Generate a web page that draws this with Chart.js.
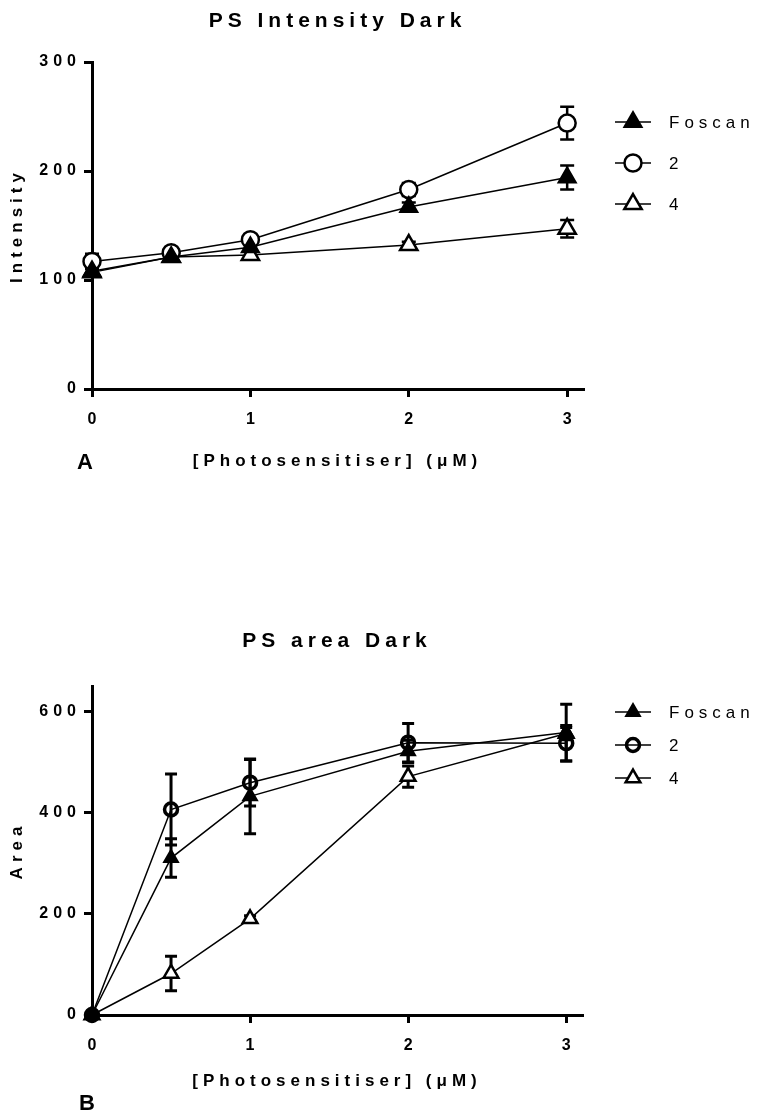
<!DOCTYPE html>
<html>
<head>
<meta charset="utf-8">
<script src="https://cdn.jsdelivr.net/npm/chart.js@4.4.1/dist/chart.umd.min.js"></script>
<style>
  html, body { margin: 0; padding: 0; background: #fff; }
  #wrap { position: relative; width: 760px; height: 1117px; overflow: hidden; }
  canvas { position: absolute; left: 0; }
  .panel { position: absolute; font-family: "Liberation Sans", Arial, sans-serif; font-weight: bold; font-size: 22px; color: #000; line-height: 1; }
</style>
</head>
<body>
<div id="wrap">
  <canvas id="c1" width="760" height="520" style="top:0"></canvas>
  <canvas id="c2" width="760" height="497" style="top:620px"></canvas>
  <div class="panel" style="left:77px; top:451px;">A</div>
  <div class="panel" style="left:79px; top:1092px;">B</div>
</div>
<script>
// ---------- data ----------
const concentrations = [0, 0.5, 1, 2, 3];
const seriesNames = ['Foscan', '2', '4'];
const xTickValues = [0, 1, 2, 3];

// Panel A: PS Intensity Dark
const intensityTicks = [0, 100, 200, 300];
const foscanIntensity = [108, 121, 130, 167, 194];
const foscanIntensityErr = [3, 2, 3, 4, 11];
const ps2Intensity = [117, 125, 137, 183, 244];
const ps2IntensityErr = [7, 3, 3, 6, 15];
const ps4Intensity = [107, 121, 123, 132, 147];
const ps4IntensityErr = [4, 2, 3, 3, 8];

// Panel B: PS area Dark
const areaTicks = [0, 200, 400, 600];
const foscanArea = [0, 310, 432, 521, 558];
const foscanAreaErr = [0, 38, 74, 22, 56];
const ps2Area = [0, 406, 459, 538, 537];
const ps2AreaErr = [0, 70, 46, 38, 35];
const ps4Area = [0, 82, 190, 471, 556];
const ps4AreaErr = [0, 34, 6, 21, 12];

// ---------- helpers ----------
const FONT = '"Liberation Sans", Arial, Helvetica, sans-serif';
const SPACING = '5px';

const spacingPlugin = {
  id: 'spacing',
  beforeUpdate(c) { c.ctx.letterSpacing = SPACING; },
  beforeLayout(c) { c.ctx.letterSpacing = SPACING; },
  beforeDraw(c) { c.ctx.letterSpacing = SPACING; }
};

const errorBarPlugin = {
  id: 'errorBars',
  beforeDatasetsDraw(chart, args, opts) {
    const ctx = chart.ctx;
    const xs = chart.scales.x, ys = chart.scales.y;
    ctx.save();
    ctx.strokeStyle = '#000';
    ctx.lineWidth = opts.width || 2.5;
    ctx.lineCap = 'butt';
    const cap = opts.cap || 6;
    chart.data.datasets.forEach(ds => {
      (ds.data || []).forEach((p, i) => {
        const e = ds.err ? ds.err[i] : 0;
        if (!e) return;
        const px = xs.getPixelForValue(p.x);
        const top = ys.getPixelForValue(p.y + e);
        const bot = ys.getPixelForValue(p.y - e);
        ctx.beginPath();
        ctx.moveTo(px, top); ctx.lineTo(px, bot);
        ctx.moveTo(px - cap, top); ctx.lineTo(px + cap, top);
        ctx.moveTo(px - cap, bot); ctx.lineTo(px + cap, bot);
        ctx.stroke();
      });
    });
    ctx.restore();
  }
};

function drawMarker(ctx, style, r, bw, fill, x, y) {
  ctx.save();
  ctx.fillStyle = fill;
  ctx.strokeStyle = '#000';
  ctx.lineWidth = bw;
  ctx.beginPath();
  if (style === 'circle') {
    ctx.arc(x, y, r, 0, Math.PI * 2);
  } else {
    for (let k = 0; k < 3; k++) {
      const a = -Math.PI / 2 + k * 2 * Math.PI / 3;
      const vx = x + Math.cos(a) * r, vy = y + Math.sin(a) * r;
      if (k === 0) ctx.moveTo(vx, vy); else ctx.lineTo(vx, vy);
    }
    ctx.closePath();
  }
  if (fill !== 'transparent') ctx.fill();
  ctx.stroke();
  ctx.restore();
}

const sideLegendPlugin = {
  id: 'sideLegend',
  afterDraw(chart, args, opts) {
    const ctx = chart.ctx;
    ctx.save();
    ctx.letterSpacing = SPACING;
    chart.data.datasets.forEach((ds, i) => {
      const y = opts.top + i * opts.step;
      ctx.strokeStyle = '#000';
      ctx.lineWidth = 1.5;
      ctx.beginPath();
      ctx.moveTo(opts.x, y); ctx.lineTo(opts.x + opts.lineLen, y);
      ctx.stroke();
      drawMarker(ctx, ds.pointStyle, ds.pointRadius, ds.pointBorderWidth,
                 ds.pointBackgroundColor, opts.x + opts.lineLen / 2, y);
      ctx.fillStyle = '#000';
      ctx.font = opts.fontSize + 'px ' + FONT;
      ctx.textAlign = 'left';
      ctx.textBaseline = 'middle';
      ctx.fillText(ds.label, opts.textX, y + 1);
    });
    ctx.restore();
  }
};

function toPoints(vals) { return concentrations.map((x, i) => ({ x: x, y: vals[i] })); }

function makeDataset(label, vals, errs, style, radius, bw, fill) {
  return {
    label: label, data: toPoints(vals), err: errs,
    borderColor: '#000', borderWidth: 1.5, tension: 0, fill: false,
    pointStyle: style, pointRadius: radius, pointHoverRadius: radius,
    pointBorderWidth: bw, pointBorderColor: '#000', pointBackgroundColor: fill,
    clip: false
  };
}

function makeOptions(cfg) {
  return {
    responsive: false, animation: false, events: [],
    layout: { padding: { left: 0, right: cfg.padRight, top: 0, bottom: cfg.padBottom } },
    plugins: {
      legend: { display: false },
      tooltip: { enabled: false },
      title: {
        display: true, text: cfg.title, color: '#000', fullSize: false,
        font: { family: FONT, size: 21, weight: 'bold', lineHeight: 1.2 },
        padding: { top: 9, bottom: cfg.titlePadBottom }
      },
      errorBars: { width: cfg.errWidth, cap: cfg.cap },
      sideLegend: cfg.legend
    },
    scales: {
      x: {
        type: 'linear', min: 0, max: 3.1,
        afterFit(s) { s.height = cfg.xHeight; },
        afterBuildTicks(s) { s.ticks = xTickValues.map(v => ({ value: v })); },
        ticks: { color: '#000', padding: 13, maxRotation: 0, autoSkip: false, labelOffset: 2.5,
                 font: { family: FONT, size: 16, weight: 'bold' } },
        grid: { drawOnChartArea: false, drawTicks: true, tickLength: 8, tickWidth: 3,
                lineWidth: 3, color: '#000', tickColor: '#000' },
        border: { display: true, width: 3, color: '#000' },
        title: { display: true, text: '[Photosensitiser] (\u03BCM)', color: '#000',
                 font: { family: FONT, size: 17, weight: 'bold', lineHeight: 1.2 },
                 padding: { top: 0, bottom: 3 } }
      },
      y: {
        type: 'linear', min: 0, max: cfg.yMax,
        afterFit(s) { s.width = 92; },
        afterBuildTicks(s) { s.ticks = cfg.yTicks.map(v => ({ value: v })); },
        ticks: { color: '#000', padding: 3, autoSkip: false,
                 font: { family: FONT, size: 16, weight: 'bold' } },
        grid: { drawOnChartArea: false, drawTicks: true, tickLength: 8, tickWidth: 3,
                lineWidth: 3, color: '#000', tickColor: '#000' },
        border: { display: true, width: 3, color: '#000' },
        title: { display: true, text: cfg.yTitle, color: '#000',
                 font: { family: FONT, size: 17, weight: 'bold', lineHeight: 1.2 },
                 padding: { top: 7, bottom: 0 } }
      }
    }
  };
}

const plugins = [spacingPlugin, errorBarPlugin, sideLegendPlugin];

// ---------- Panel A ----------
new Chart(document.getElementById('c1'), {
  type: 'line',
  data: {
    datasets: [
      makeDataset(seriesNames[0], foscanIntensity, foscanIntensityErr, 'triangle', 10, 2, '#000'),
      makeDataset(seriesNames[1], ps2Intensity, ps2IntensityErr, 'circle', 8.5, 2.5, '#fff'),
      makeDataset(seriesNames[2], ps4Intensity, ps4IntensityErr, 'triangle', 10, 2.5, '#fff')
    ]
  },
  options: makeOptions({
    title: 'PS Intensity Dark', yTitle: 'Intensity', yMax: 300, yTicks: intensityTicks,
    padRight: 177, padBottom: 45, titlePadBottom: 27.8, xHeight: 86,
    errWidth: 2.5, cap: 7,
    legend: { x: 615, lineLen: 36, textX: 669, top: 122, step: 41, fontSize: 17 }
  }),
  plugins: plugins
});

// ---------- Panel B ----------
new Chart(document.getElementById('c2'), {
  type: 'line',
  data: {
    datasets: [
      makeDataset(seriesNames[0], foscanArea, foscanAreaErr, 'triangle', 8, 2, '#000'),
      makeDataset(seriesNames[1], ps2Area, ps2AreaErr, 'circle', 6.5, 3.5, 'transparent'),
      makeDataset(seriesNames[2], ps4Area, ps4AreaErr, 'triangle', 8.5, 2.5, '#fff')
    ]
  },
  options: makeOptions({
    title: 'PS area Dark', yTitle: 'Area', yMax: 650, yTicks: areaTicks,
    padRight: 178, padBottom: 22, titlePadBottom: 31.8, xHeight: 80,
    errWidth: 3, cap: 6,
    legend: { x: 615, lineLen: 36, textX: 669, top: 92, step: 33, fontSize: 17 }
  }),
  plugins: plugins
});
</script>
</body>
</html>
